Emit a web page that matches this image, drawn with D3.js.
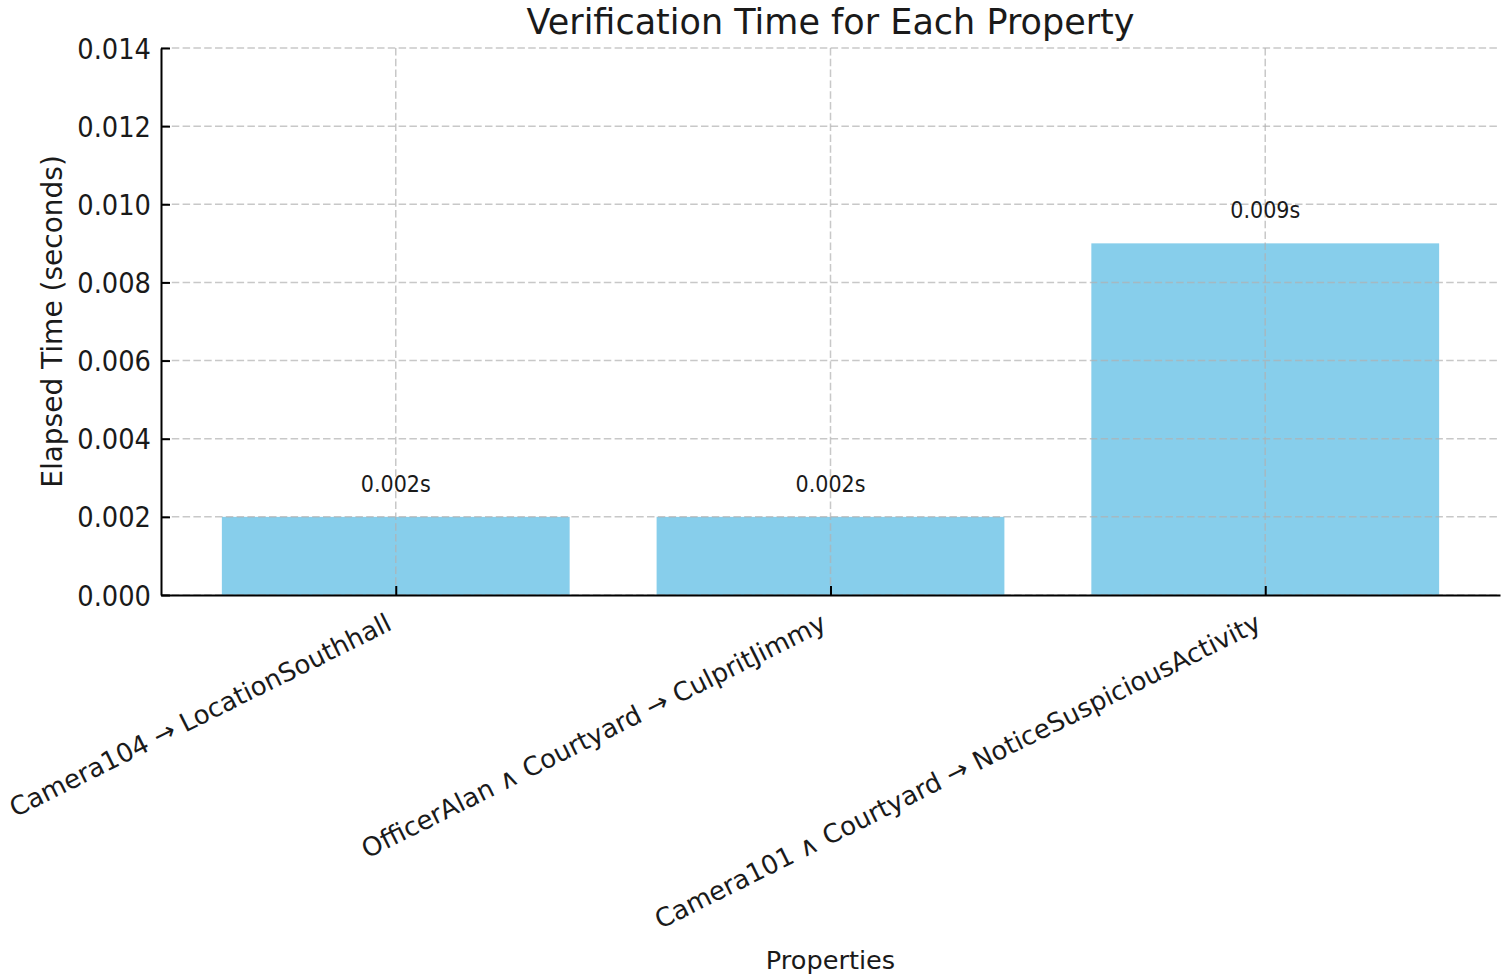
<!DOCTYPE html>
<html>
<head>
<meta charset="utf-8">
<script src="https://cdn.jsdelivr.net/npm/d3@7"></script>
<style>
  body { margin: 0; background: #fff; }
  text { font-family: "DejaVu Sans", sans-serif; fill: #1a1a1a; }
</style>
</head>
<body>
<svg width="1505" height="980"></svg>
<script>
// chart data
var properties = [
  "Camera104 \u2192 LocationSouthhall",
  "OfficerAlan \u2227 Courtyard \u2192 CulpritJimmy",
  "Camera101 \u2227 Courtyard \u2192 NoticeSuspiciousActivity"
];
var elapsed = [0.002, 0.002, 0.009];
var yTicks = [0, 0.002, 0.004, 0.006, 0.008, 0.010, 0.012, 0.014];

var svg = d3.select("svg");
var margin = {left: 161, right: 5, top: 48, bottom: 385};
var width = +svg.attr("width") - margin.left - margin.right,
    height = +svg.attr("height") - margin.top - margin.bottom;

var g = svg.append("g")
    .attr("transform", "translate(" + margin.left + "," + margin.top + ")");

// matplotlib-like x limits: -0.54 .. 2.54
var x = d3.scaleLinear()
    .domain([-0.54, properties.length - 1 + 0.54])
    .range([0, width]);
var barW = 0.8;

var y = d3.scaleLinear()
    .domain([0, 0.014])
    .range([height, 0]);

// bars
g.selectAll(".bar")
  .data(elapsed)
  .enter().append("rect")
    .attr("class", "bar")
    .attr("x", function(d, i) { return x(i - barW / 2); })
    .attr("width", function(d, i) { return x(i + barW / 2) - x(i - barW / 2); })
    .attr("y", function(d) { return y(d); })
    .attr("height", function(d) { return height - y(d); })
    .attr("fill", "#87CEEB");

// grid (drawn above bars)
var grid = g.append("g").attr("class", "grid");
grid.selectAll(".hgrid")
  .data(yTicks)
  .enter().append("line")
    .attr("x1", 0).attr("x2", width)
    .attr("y1", function(d) { return y(d); })
    .attr("y2", function(d) { return y(d); });
grid.selectAll(".vgrid")
  .data(properties)
  .enter().append("line")
    .attr("x1", function(d, i) { return x(i); })
    .attr("x2", function(d, i) { return x(i); })
    .attr("y1", 0).attr("y2", height);
grid.selectAll("line")
    .attr("stroke", "#b0b0b0")
    .attr("stroke-opacity", 0.7)
    .attr("stroke-width", 1.5)
    .attr("stroke-dasharray", "7.5,3.3");

// value labels (a bit condensed, like the hinted original)
g.selectAll(".val")
  .data(elapsed)
  .enter().append("text")
    .attr("class", "val")
    .attr("transform", function(d, i) { return "translate(" + x(i) + "," + (y(d) - 25) + ") scale(0.88,1)"; })
    .attr("text-anchor", "middle")
    .style("font-size", "23.5px")
    .text(function(d) { return d.toFixed(3) + "s"; });

// y axis
var yAxis = g.append("g")
    .attr("class", "yAxis")
    .call(d3.axisLeft(y).tickValues(yTicks).tickFormat(d3.format(".3f")).tickSizeInner(-9).tickSizeOuter(0).tickPadding(10));
yAxis.select(".domain").attr("stroke", "#000").attr("stroke-width", 2);
yAxis.selectAll(".tick line").attr("stroke", "#000").attr("stroke-width", 2);
yAxis.selectAll(".tick text")
    .style("font-size", "28px")
    .attr("fill", "#000")
    .attr("x", -10 / 0.92)
    .attr("dy", "0.36em")
    .attr("transform", "scale(0.92,1)");

// x axis
var xAxis = g.append("g")
    .attr("class", "xAxis")
    .attr("transform", "translate(0," + height + ")")
    .call(d3.axisBottom(x).tickValues(d3.range(properties.length)).tickSizeInner(-9).tickSizeOuter(0).tickFormat(function(d) { return properties[d]; }));
xAxis.select(".domain").attr("stroke", "#000").attr("stroke-width", 2);
xAxis.selectAll(".tick line").attr("stroke", "#000").attr("stroke-width", 2);
xAxis.selectAll(".tick text")
    .style("font-size", "26px")
    .attr("fill", "#000")
    .attr("text-anchor", "end")
    .attr("dy", null)
    .attr("y", 0)
    .attr("transform", "translate(-3,34) rotate(-26.5)");

// axis titles
svg.append("text")
    .attr("x", margin.left + width / 2)
    .attr("y", 34)
    .attr("text-anchor", "middle")
    .style("font-size", "35px")
    .text("Verification Time for Each Property");

svg.append("text")
    .attr("transform", "translate(62," + (margin.top + height / 2) + ") rotate(-90)")
    .attr("text-anchor", "middle")
    .style("font-size", "28px")
    .text("Elapsed Time (seconds)");

svg.append("text")
    .attr("x", margin.left + width / 2)
    .attr("y", 969)
    .attr("text-anchor", "middle")
    .style("font-size", "25.6px")
    .text("Properties");
</script>
</body>
</html>
